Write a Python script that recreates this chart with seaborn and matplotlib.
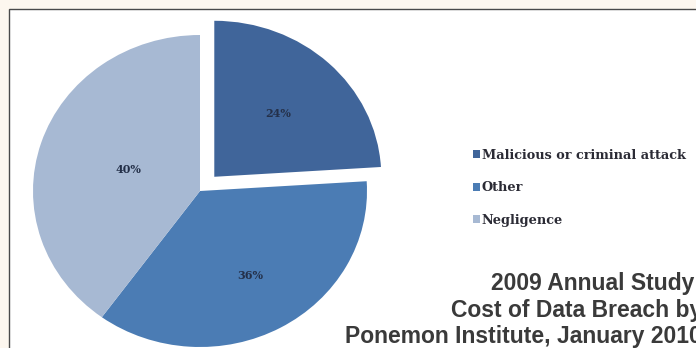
import numpy as np
import matplotlib
matplotlib.use("Agg")
import matplotlib.pyplot as plt
from matplotlib.patches import Rectangle, Patch
import seaborn as sns

# ---- data ----
categories = ["Malicious or criminal attack", "Other", "Negligence"]
shares = [24, 36, 40]
pct_labels = ["24%", "36%", "40%"]
caption_lines = ["2009 Annual Study:", "Cost of Data Breach by", "Ponemon Institute, January 2010"]

# ---- style ----
sns.set_style("white")
colors = sns.color_palette(["#40659a", "#4b7cb4", "#a7b9d3"])
explode = [0.125, 0, 0]
label_dist = [0.56, 0.62, 0.45]

W, H = 696, 348
fig = plt.figure(figsize=(W / 100, H / 100), dpi=100)
fig.patch.set_facecolor("#fdf7ef")

# white panel with thin border
panel = Rectangle((9 / W, -0.2), 1.3, (H - 9) / H + 0.2, transform=fig.transFigure,
                  facecolor="white", edgecolor="#4a4a4a", linewidth=1.0, zorder=-5)
fig.add_artist(panel)

# pie axes: horizontal radius 167px, vertical 156px, centre (200, 191) from top
rx, ry = 167, 156
cx, cy = 200, H - 191
ax_w, ax_h = 2.5 * rx, 2.5 * ry
ax = fig.add_axes([(cx - ax_w / 2) / W, (cy - ax_h / 2) / H, ax_w / W, ax_h / H])
ax.patch.set_alpha(0)

wedges, _ = ax.pie(shares, colors=colors, startangle=90, counterclock=False,
                   explode=explode, wedgeprops=dict(linewidth=0))
ax.set_aspect("auto")
ax.set_xlim(-1.25, 1.25)
ax.set_ylim(-1.25, 1.25)
ax.axis("off")

for w, lab, d, e in zip(wedges, pct_labels, label_dist, explode):
    mid = np.deg2rad((w.theta1 + w.theta2) / 2)
    x = (d + e) * np.cos(mid)
    y = (d + e) * np.sin(mid)
    ax.text(x, y, lab, ha="center", va="center", fontsize=8,
            fontfamily="DejaVu Serif", fontweight="bold", color="#243049")

handles = [Patch(facecolor=c, edgecolor="none") for c in colors]
leg = fig.legend(handles, categories, loc="upper left",
                 bbox_to_anchor=(473 / W, 1 - 149 / H), frameon=False,
                 prop=dict(family="DejaVu Serif", weight="bold", size=9.3),
                 handlelength=0.58, handleheight=0.58, handletextpad=0.1,
                 labelspacing=1.5, borderpad=0, borderaxespad=0)
for t in leg.get_texts():
    t.set_color("#2b2b35")

fig.text(702 / W, 1 - 272 / H, "\n".join(caption_lines), ha="right", va="top",
         multialignment="right", fontsize=16.5, fontweight="bold",
         fontfamily="Liberation Sans", color="#3a3a3a", linespacing=1.2)

fig.savefig("out.png", dpi=100, facecolor=fig.get_facecolor())
